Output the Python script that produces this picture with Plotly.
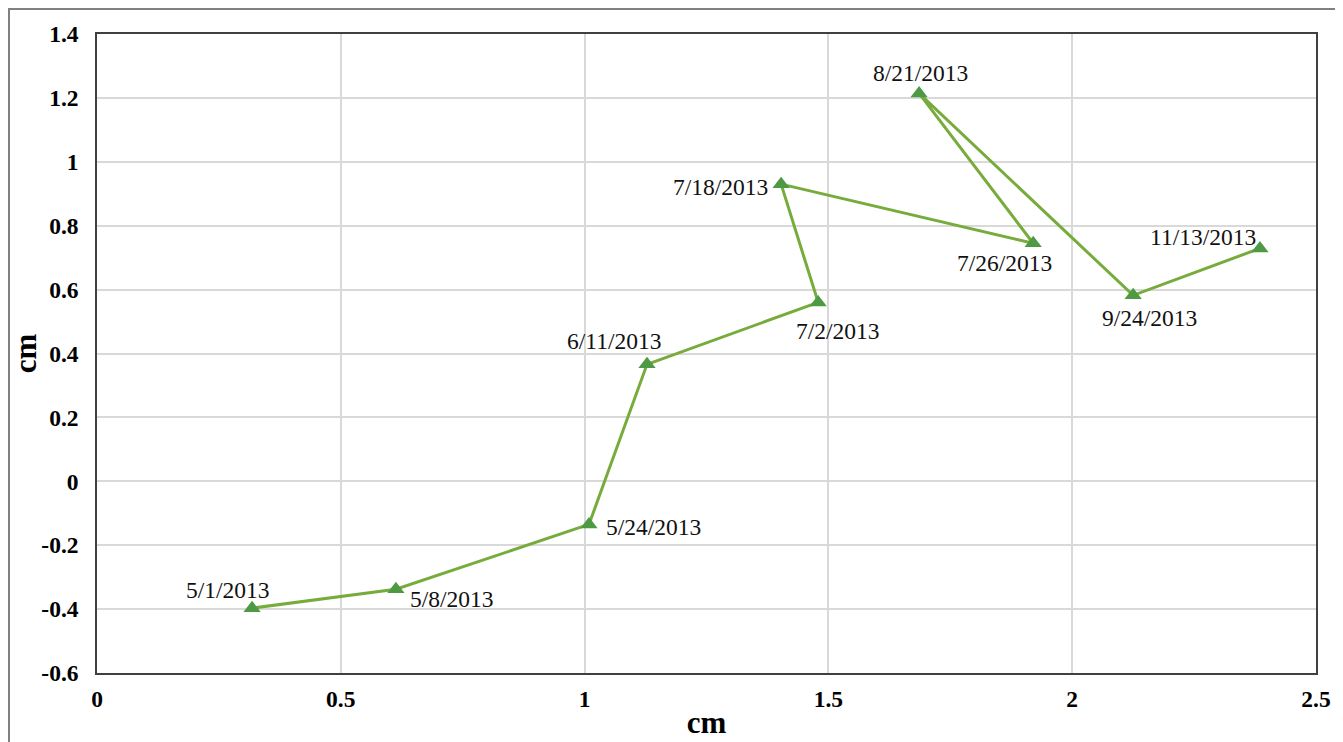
import plotly.graph_objects as go

# Displacement readings (cm)
dates = ['5/1/2013', '5/8/2013', '5/24/2013', '6/11/2013', '7/2/2013',
         '7/18/2013', '7/26/2013', '8/21/2013', '9/24/2013', '11/13/2013']
x_cm = [0.318, 0.613, 1.009, 1.128, 1.479, 1.403, 1.920, 1.686, 2.125, 2.385]
y_cm = [-0.397, -0.338, -0.135, 0.366, 0.560, 0.930, 0.745, 1.214, 0.582, 0.729]

x_ticks = [0, 0.5, 1, 1.5, 2, 2.5]
x_tick_text = ['0', '0.5', '1', '1.5', '2', '2.5']
y_ticks = [-0.6, -0.4, -0.2, 0, 0.2, 0.4, 0.6, 0.8, 1, 1.2, 1.4]
y_tick_text = ['-0.6', '-0.4', '-0.2', '0', '0.2', '0.4', '0.6', '0.8', '1', '1.2', '1.4']

# label offsets in pixels (dx, dy) relative to each point
label_shift = [(-24, 18), (56, -10), (65, -3), (-33, 23), (20, -29),
               (-61, -3), (-29, -20), (1, 20), (16, -23), (-57, 11)]

serif = 'Liberation Serif, Times New Roman, serif'

fig = go.Figure()
fig.add_trace(go.Scatter(
    x=x_cm, y=y_cm,
    mode='lines+markers',
    line=dict(color='#77AC3D', width=3),
    marker=dict(symbol='triangle-up', size=15, color='#4E9A44'),
    showlegend=False,
    hoverinfo='skip',
))

for d, xv, yv, (dx, dy) in zip(dates, x_cm, y_cm, label_shift):
    fig.add_annotation(x=xv, y=yv, text=d, showarrow=False,
                       xshift=dx, yshift=dy,
                       font=dict(family=serif, size=23.5, color='#111111'))

# outer border around whole chart
fig.add_shape(type='rect', xref='paper', yref='paper',
              x0=-0.0722, x1=1.0172, y0=-0.12, y1=1.0392,
              line=dict(color='#808080', width=2), layer='below')

axis_common = dict(
    showgrid=True, gridcolor='#d9d9d9', gridwidth=1.5,
    showline=True, linecolor='#404040', linewidth=1.5, mirror=True,
    zeroline=False, ticks='', automargin=False,
    tickfont=dict(family=serif, size=23.5, color='#000000', weight='bold'),
)

fig.update_xaxes(range=[0, 2.5], tickvals=x_ticks, ticktext=x_tick_text,
                 ticklabelstandoff=4,
                 title=dict(text='<b>cm</b>', standoff=0,
                            font=dict(family=serif, size=31, color='#000000')),
                 **axis_common)
fig.update_yaxes(range=[-0.6, 1.4], tickvals=y_ticks, ticktext=y_tick_text,
                 ticklabelstandoff=12,
                 title=dict(text='<b>cm</b>', standoff=8,
                            font=dict(family=serif, size=31, color='#000000')),
                 **axis_common)

fig.update_layout(
    width=1335, height=734,
    margin=dict(l=89, r=27, t=26, b=69),
    plot_bgcolor='white', paper_bgcolor='white',
)

fig.write_html("out.html")
